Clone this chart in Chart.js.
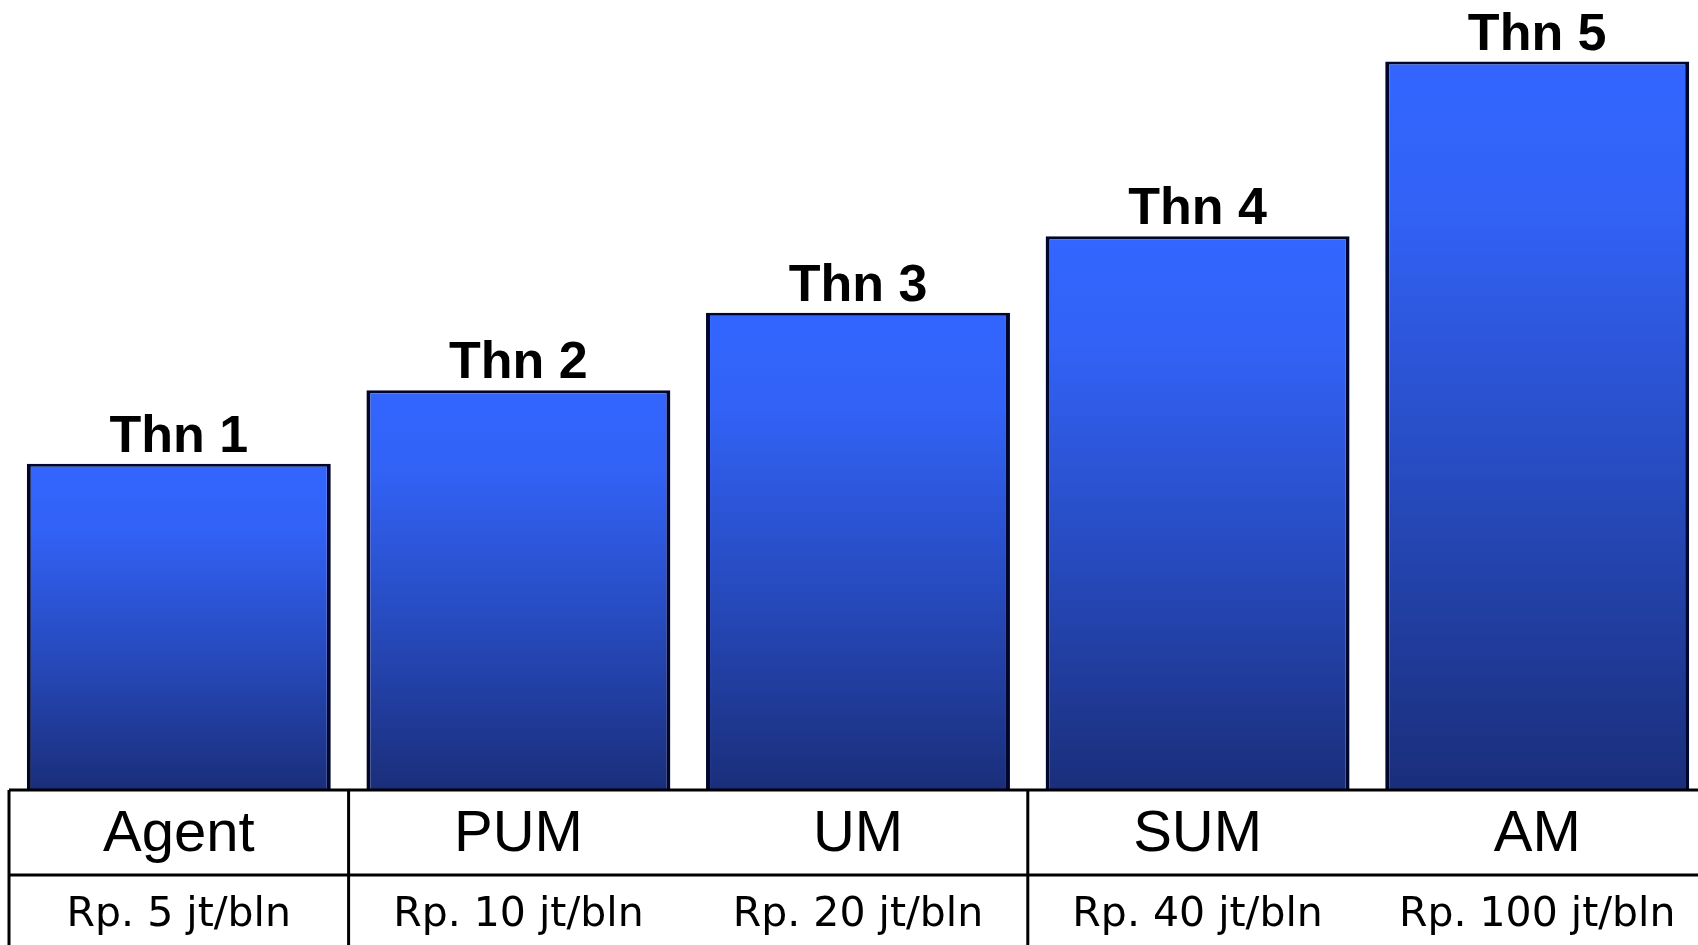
<!DOCTYPE html>
<html>
<head>
<meta charset="utf-8">
<title>Jenjang Karir</title>
<script src="https://cdn.jsdelivr.net/npm/chart.js@4.4.1/dist/chart.umd.min.js"></script>
<style>
    html, body { margin: 0; padding: 0; background: #ffffff; overflow: hidden; }
    #wrap { width: 1698px; height: 945px; overflow: hidden; }
</style>
</head>
<body>
<div id="wrap"><canvas id="careerChart" width="1707" height="945"></canvas></div>
<script>
// data
var positions = ['Agent', 'PUM', 'UM', 'SUM', 'AM'];
var incomes = ['Rp. 5 jt/bln', 'Rp. 10 jt/bln', 'Rp. 20 jt/bln', 'Rp. 40 jt/bln', 'Rp. 100 jt/bln'];
var years = ['Thn 1', 'Thn 2', 'Thn 3', 'Thn 4', 'Thn 5'];
var levels = [41.3, 50.6, 60.4, 70.1, 92.2];

// vertical table lines only after these category indexes
var dividerAfter = [0, 2];

// bar gradient, bright on top and dark navy at the base
function barGradient(context) {
    var chart = context.chart;
    if (!chart.chartArea) {
        return '#3366ff';
    }
    var yScale = chart.scales.y;
    var top = yScale.getPixelForValue(context.raw);
    var bottom = yScale.getPixelForValue(0);
    var g = chart.ctx.createLinearGradient(0, top, 0, bottom);
    g.addColorStop(0, '#3366ff');
    g.addColorStop(0.2, '#3262f6');
    g.addColorStop(0.6, '#2649bb');
    g.addColorStop(1, '#1a2e7a');
    return g;
}

// "Thn n" above each bar
var yearLabelPlugin = {
    id: 'yearLabels',
    afterDatasetsDraw: function(chart) {
        var ctx = chart.ctx;
        var meta = chart.getDatasetMeta(0);
        ctx.save();
        ctx.font = 'bold 52px "Liberation Sans", Arial, sans-serif';
        ctx.fillStyle = '#000000';
        ctx.textAlign = 'center';
        ctx.textBaseline = 'alphabetic';
        meta.data.forEach(function(bar, i) {
            ctx.fillText(years[i], bar.x, bar.y - 12);
        });
        ctx.restore();
    }
};

// table lines under the bars
var tablePlugin = {
    id: 'tableLines',
    afterDraw: function(chart) {
        var ctx = chart.ctx;
        var x = chart.scales.x;
        var x2 = chart.scales.x2;
        var half = (x.getPixelForValue(1) - x.getPixelForValue(0)) / 2;
        var left = x.getPixelForValue(0) - half;
        ctx.save();
        ctx.strokeStyle = '#000000';
        ctx.lineWidth = 3;
        ctx.beginPath();
        ctx.moveTo(left, x.top);
        ctx.lineTo(chart.width, x.top);
        ctx.moveTo(left, x2.top);
        ctx.lineTo(chart.width, x2.top);
        ctx.moveTo(left, x.top);
        ctx.lineTo(left, x2.bottom);
        dividerAfter.forEach(function(i) {
            var px = x.getPixelForValue(i) + half;
            ctx.moveTo(px, x.top);
            ctx.lineTo(px, x2.bottom);
        });
        ctx.stroke();
        ctx.restore();
    }
};

var chartCtx = document.getElementById('careerChart').getContext('2d');
var careerChart = new Chart(chartCtx, {
    type: 'bar',
    data: {
        labels: positions,
        datasets: [{
            data: levels,
            backgroundColor: barGradient,
            borderColor: '#00072e',
            borderWidth: { top: 3, left: 4, right: 4, bottom: 0 },
            borderSkipped: false,
            barPercentage: 0.895,
            categoryPercentage: 1
        }]
    },
    options: {
        responsive: false,
        animation: false,
        layout: {
            padding: { top: 0, left: 9, right: 0, bottom: 0 }
        },
        plugins: {
            legend: { display: false },
            tooltip: { enabled: false }
        },
        scales: {
            y: {
                display: false,
                min: 0,
                max: 100
            },
            x: {
                position: 'bottom',
                weight: 0,
                offset: true,
                border: { display: false },
                grid: { display: false, drawTicks: false },
                ticks: {
                    padding: 10,
                    color: '#000000',
                    maxRotation: 0,
                    autoSkip: false,
                    font: { family: '"Liberation Sans", Arial, sans-serif', size: 58 }
                },
                afterFit: function(scale) { scale.height = 85; }
            },
            x2: {
                type: 'category',
                labels: incomes,
                position: 'bottom',
                weight: 1,
                offset: true,
                border: { display: false },
                grid: { display: false, drawTicks: false },
                ticks: {
                    padding: 16,
                    color: '#000000',
                    maxRotation: 0,
                    autoSkip: false,
                    font: { family: '"DejaVu Sans", sans-serif', size: 41 }
                },
                afterFit: function(scale) { scale.height = 70; }
            }
        }
    },
    plugins: [yearLabelPlugin, tablePlugin]
});
</script>
</body>
</html>
